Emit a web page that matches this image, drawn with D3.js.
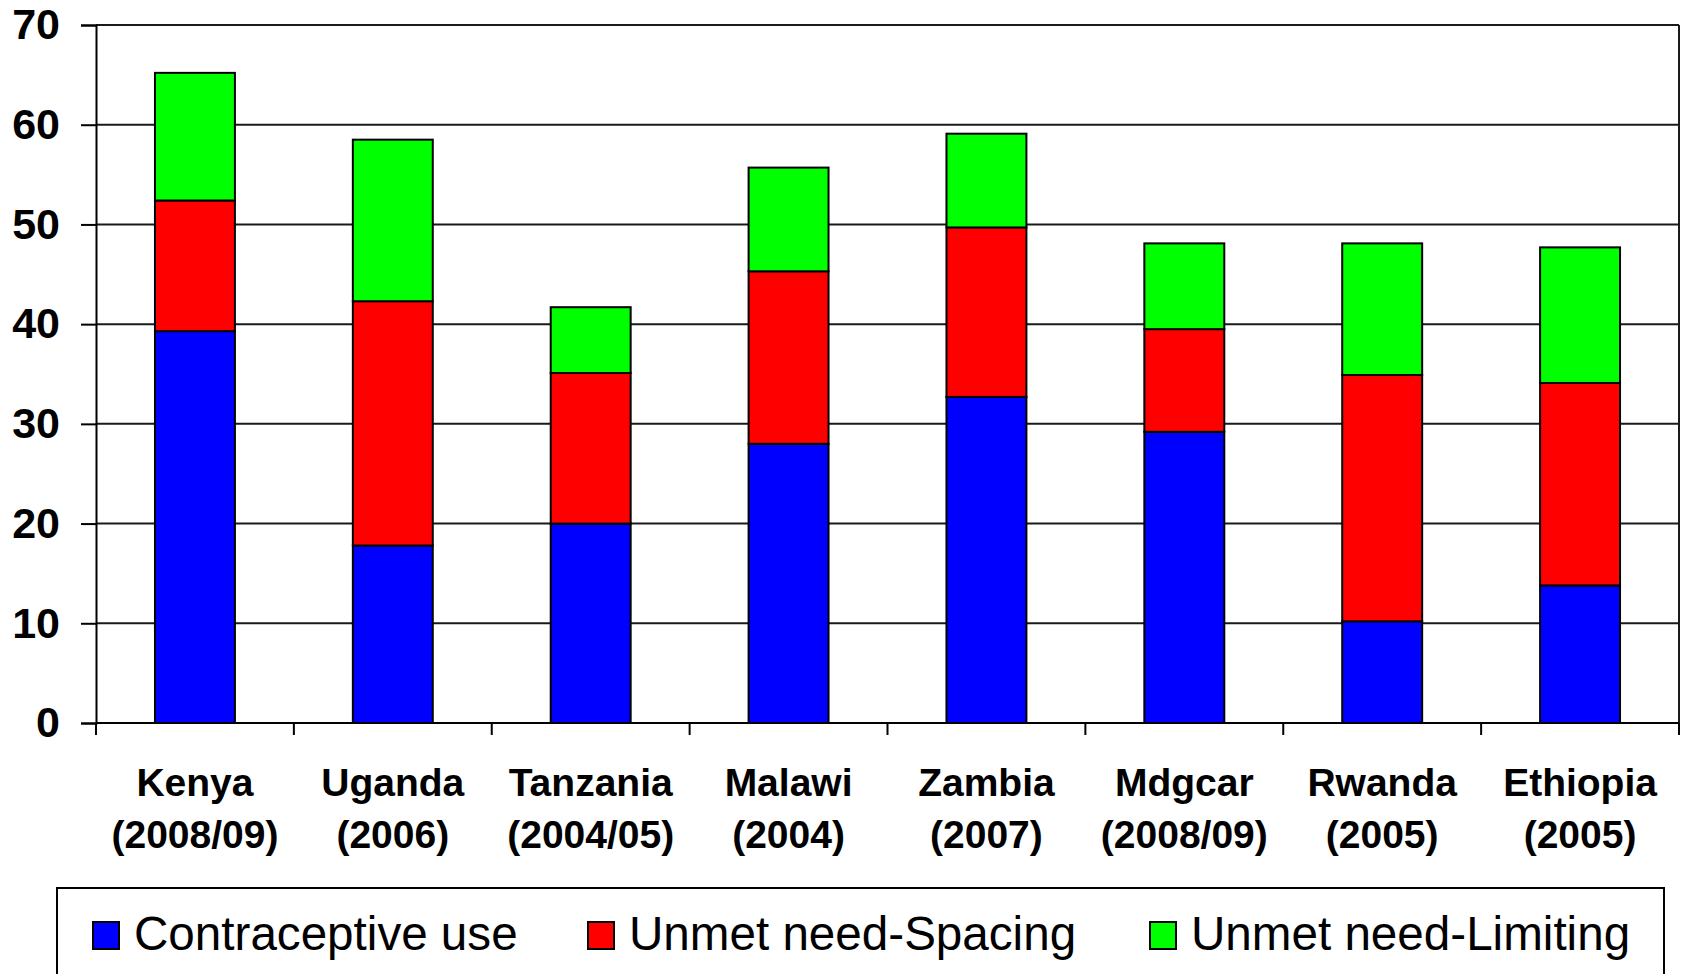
<!DOCTYPE html>
<html>
<head>
<meta charset="utf-8">
<script src="https://cdn.jsdelivr.net/npm/d3@7"></script>
<style>
  html, body { margin: 0; padding: 0; background: #fff; }
  svg { display: block; }
  text { font-family: "Liberation Sans", Arial, Helvetica, sans-serif; }
</style>
</head>
<body>
<svg id="chart" width="1684" height="974"></svg>
<script>
// Countries (survey years shown on a second line)
const countries = ["Kenya", "Uganda", "Tanzania", "Malawi", "Zambia", "Mdgcar", "Rwanda", "Ethiopia"];
const surveyYears = ["(2008/09)", "(2006)", "(2004/05)", "(2004)", "(2007)", "(2008/09)", "(2005)", "(2005)"];

// Percent of married women, stacked bottom to top
const contraceptiveUse = [39.3, 17.8, 20.0, 28.0, 32.7, 29.2, 10.2, 13.8];
const unmetSpacing     = [13.1, 24.5, 15.1, 17.3, 17.0, 10.3, 24.7, 20.3];
const unmetLimiting    = [12.8, 16.2,  6.6, 10.4,  9.4,  8.6, 13.2, 13.6];

const seriesNames  = ["Contraceptive use", "Unmet need-Spacing", "Unmet need-Limiting"];
const seriesColors = ["#0000ff", "#ff0000", "#00ff00"];
const yTicks = [0, 10, 20, 30, 40, 50, 60, 70];

const svg = d3.select("#chart");
const plot = { left: 96, top: 25, right: 1679, bottom: 723 };

const rows = countries.map((c, i) => ({
  country: c,
  "Contraceptive use": contraceptiveUse[i],
  "Unmet need-Spacing": unmetSpacing[i],
  "Unmet need-Limiting": unmetLimiting[i]
}));

const x = d3.scaleBand()
  .domain(countries)
  .range([plot.left, plot.right])
  .paddingInner(0.596)
  .paddingOuter(0.298);

const y = d3.scaleLinear().domain([0, 70]).range([plot.bottom, plot.top]);

const color = d3.scaleOrdinal().domain(seriesNames).range(seriesColors);

// Horizontal gridlines
svg.append("g")
  .selectAll("line")
  .data(yTicks.filter(t => t > 0))
  .join("line")
  .attr("x1", plot.left).attr("x2", plot.right)
  .attr("y1", d => y(d)).attr("y2", d => y(d))
  .attr("stroke", "#1a1a1a").attr("stroke-width", 2);

// Right edge of the plot frame
svg.append("line")
  .attr("x1", plot.right).attr("x2", plot.right)
  .attr("y1", plot.top).attr("y2", plot.bottom)
  .attr("stroke", "#1a1a1a").attr("stroke-width", 2);

// Stacked bars
const stack = d3.stack().keys(seriesNames);
const layers = stack(rows);

svg.append("g")
  .selectAll("g")
  .data(layers)
  .join("g")
  .attr("fill", d => color(d.key))
  .selectAll("rect")
  .data(d => d)
  .join("rect")
  .attr("x", d => x(d.data.country))
  .attr("width", x.bandwidth())
  .attr("y", d => y(d[1]))
  .attr("height", d => y(d[0]) - y(d[1]))
  .attr("stroke", "#000")
  .attr("stroke-width", 2);

// Y axis
const yAxis = svg.append("g")
  .attr("transform", `translate(${plot.left},0)`)
  .call(d3.axisLeft(y).tickValues(yTicks).tickSize(15).tickPadding(21).tickFormat(d3.format("d")));
yAxis.select(".domain").attr("stroke", "#000").attr("stroke-width", 2);
yAxis.selectAll(".tick line").attr("stroke", "#000").attr("stroke-width", 2);
yAxis.selectAll(".tick text")
  .attr("font-size", 43).attr("font-weight", "bold").attr("fill", "#000")
  .attr("font-family", "'Liberation Sans', Arial, sans-serif");

// X axis: category boundary ticks
const step = x.step();
const boundaries = d3.range(countries.length + 1).map(i => plot.left + i * step);
svg.append("line")
  .attr("x1", plot.left).attr("x2", plot.right)
  .attr("y1", plot.bottom).attr("y2", plot.bottom)
  .attr("stroke", "#000").attr("stroke-width", 2);
svg.append("g")
  .selectAll("line")
  .data(boundaries)
  .join("line")
  .attr("x1", d => d).attr("x2", d => d)
  .attr("y1", plot.bottom).attr("y2", plot.bottom + 12)
  .attr("stroke", "#000").attr("stroke-width", 2);

// Category labels
const labels = svg.append("g")
  .selectAll("text")
  .data(countries)
  .join("text")
  .attr("text-anchor", "middle")
  .attr("font-size", 39)
  .attr("font-weight", "bold")
  .attr("fill", "#000");
labels.append("tspan")
  .attr("x", d => x(d) + x.bandwidth() / 2)
  .attr("y", 796)
  .text(d => d);
labels.append("tspan")
  .attr("x", d => x(d) + x.bandwidth() / 2)
  .attr("y", 848)
  .text((d, i) => surveyYears[i]);

// Legend
const legend = svg.append("g");
legend.append("rect")
  .attr("x", 57).attr("y", 888)
  .attr("width", 1607).attr("height", 120)
  .attr("fill", "#fff").attr("stroke", "#000").attr("stroke-width", 2);

const legendX = [93, 588, 1150];
const items = legend.selectAll("g.item")
  .data(seriesNames)
  .join("g")
  .attr("class", "item")
  .attr("transform", (d, i) => `translate(${legendX[i]},0)`);
items.append("rect")
  .attr("x", 0).attr("y", 922)
  .attr("width", 26).attr("height", 27)
  .attr("fill", d => color(d))
  .attr("stroke", "#000").attr("stroke-width", 2);
items.append("text")
  .attr("x", 41).attr("y", 950)
  .attr("font-size", 47.6)
  .attr("fill", "#000")
  .text(d => d);
</script>
</body>
</html>
